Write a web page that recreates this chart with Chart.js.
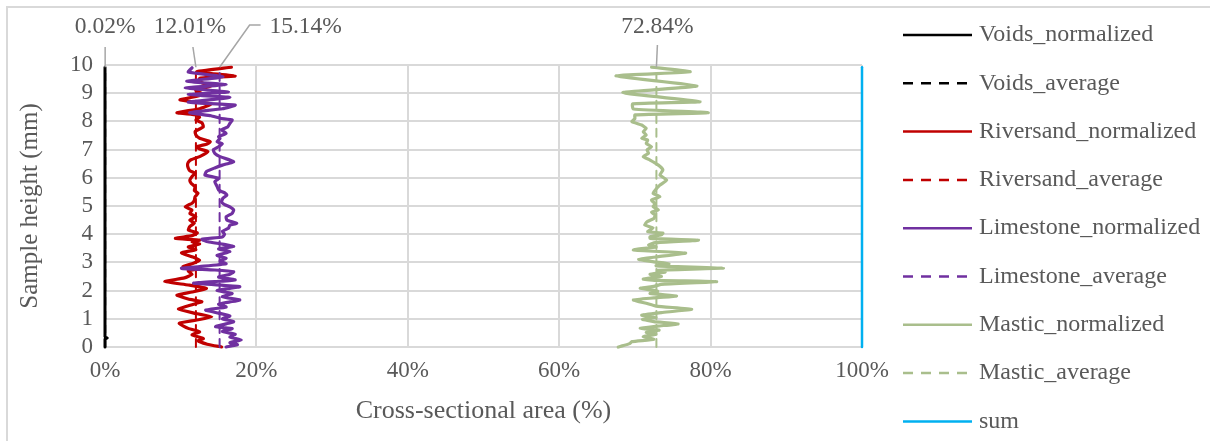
<!DOCTYPE html>
<html>
<head>
<meta charset="utf-8">
<script src="https://cdn.jsdelivr.net/npm/chart.js@4.4.0/dist/chart.umd.min.js"></script>
<style>
  html, body { margin: 0; padding: 0; background: #fff; }
</style>
</head>
<body>
<canvas id="area-chart" width="1210" height="441"></canvas>
<script>
Chart.defaults.font.family = '"Liberation Serif", "Times New Roman", serif'
Chart.defaults.color = '#595959'

// Sample heights (mm) and cross-sectional areas (%) for each phase
const voidsHeight = [0, 0.28, 0.32, 0.36, 9.92];
const voidsArea = [0, 0, 0.3, 0, 0];

const riversandHeight = [0, 0.1, 0.22, 0.3, 0.43, 0.54, 0.66, 0.84, 0.95, 1.07, 1.19, 1.34, 1.5, 1.61, 1.7, 1.84, 1.95, 2.08, 2.2, 2.32,
  2.45, 2.58, 2.7, 2.79, 2.85, 2.95, 3.08, 3.2, 3.34, 3.45, 3.55, 3.65, 3.72, 3.79, 3.85, 3.95, 4.05, 4.15, 4.27, 4.4,
  4.5, 4.62, 4.74, 4.85, 4.97, 5.1, 5.2, 5.33, 5.45, 5.55, 5.68, 5.8, 5.92, 6.05, 6.16, 6.25, 6.34, 6.45, 6.55, 6.63,
  6.75, 6.93, 7.02, 7.1, 7.2, 7.28, 7.4, 7.52, 7.64, 7.81, 7.95, 8.05, 8.15, 8.23, 8.31, 8.45, 8.62, 8.76, 8.95, 9.1,
  9.25, 9.4, 9.53, 9.61, 9.76, 9.92];
const riversandArea = [15.4, 13.5, 12.3, 13.0, 11.5, 12.5, 11.0, 9.8, 12.0, 14.1, 12.0, 9.7, 11.5, 12.8, 11.0, 9.5, 11.5, 13.4, 11.0, 7.9,
  10.5, 11.5, 11.0, 12.5, 10.3, 11.5, 12.5, 11.5, 10.1, 12.0, 11.0, 12.5, 11.5, 12.5, 9.3, 11.5, 12.2, 11.0, 11.2, 11.8,
  11.2, 12.0, 11.2, 11.5, 10.6, 11.5, 11.8, 11.9, 12.3, 11.8, 11.9, 11.4, 11.2, 11.5, 11.9, 11.2, 11.0, 10.9, 11.0, 11.3,
  12.5, 13.6, 12.5, 12.1, 13.5, 13.9, 12.5, 12.0, 11.9, 13.0, 12.8, 12.0, 12.5, 12.1, 9.5, 12.5, 14.0, 9.9, 13.0, 12.0,
  14.0, 12.5, 12.5, 17.2, 12.1, 16.7];

const limestoneHeight = [0, 0.08, 0.15, 0.25, 0.35, 0.45, 0.55, 0.65, 0.72, 0.82, 0.9, 1.0, 1.1, 1.2, 1.31, 1.42, 1.52, 1.6, 1.67, 1.78,
  1.9, 2.0, 2.08, 2.14, 2.26, 2.32, 2.38, 2.48, 2.58, 2.67, 2.73, 2.79, 2.85, 2.95, 3.05, 3.15, 3.25, 3.38, 3.48, 3.56,
  3.65, 3.73, 3.82, 3.9, 4.0, 4.1, 4.21, 4.32, 4.39, 4.5, 4.62, 4.74, 4.86, 4.97, 5.05, 5.15, 5.28, 5.39, 5.45, 5.57,
  5.7, 5.86, 5.98, 6.1, 6.22, 6.35, 6.45, 6.51, 6.57, 6.63, 6.75, 6.87, 6.99, 7.1, 7.2, 7.28, 7.4, 7.46, 7.58, 7.7,
  7.8, 7.93, 8.05, 8.11, 8.2, 8.31, 8.45, 8.58, 8.68, 8.85, 8.95, 9.05, 9.18, 9.3, 9.42, 9.58, 9.75, 9.9];
const limestoneArea = [16.0, 17.5, 16.5, 18.0, 16.5, 17.2, 15.5, 16.8, 14.6, 16.0, 17.0, 15.5, 16.5, 15.0, 13.3, 16.0, 15.0, 16.5, 17.8, 15.5,
  16.8, 14.8, 16.5, 17.8, 11.7, 14.5, 17.2, 15.0, 16.5, 17.0, 14.5, 10.1, 12.5, 16.0, 15.2, 16.0, 14.8, 16.5, 15.0, 17.0,
  15.5, 13.6, 12.8, 15.5, 15.8, 15.5, 16.3, 16.5, 17.4, 16.1, 16.0, 16.8, 17.0, 16.5, 15.8, 15.4, 15.6, 16.1, 15.9, 15.0,
  14.8, 14.5, 15.0, 13.2, 13.4, 14.5, 15.5, 16.3, 17.0, 16.5, 15.2, 14.5, 14.3, 15.0, 15.5, 14.8, 15.2, 15.0, 16.0, 15.4,
  16.2, 16.5, 16.8, 15.2, 14.0, 11.2, 15.5, 17.2, 11.0, 16.5, 11.0, 16.3, 10.6, 16.0, 10.8, 15.6, 11.0, 11.5];

const masticHeight = [0, 0.05, 0.12, 0.19, 0.27, 0.37, 0.45, 0.52, 0.6, 0.66, 0.74, 0.82, 0.9, 0.98, 1.05, 1.13, 1.22, 1.34, 1.45, 1.55,
  1.67, 1.74, 1.81, 1.9, 1.98, 2.08, 2.15, 2.22, 2.32, 2.36, 2.41, 2.5, 2.58, 2.66, 2.72, 2.8, 2.88, 2.95, 3.02, 3.11,
  3.2, 3.33, 3.44, 3.55, 3.62, 3.7, 3.79, 3.85, 3.91, 3.98, 4.04, 4.09, 4.22, 4.33, 4.44, 4.56, 4.68, 4.78, 4.86, 4.98,
  5.07, 5.15, 5.21, 5.33, 5.45, 5.57, 5.74, 5.92, 6.1, 6.28, 6.45, 6.63, 6.75, 6.87, 6.99, 7.1, 7.22, 7.34, 7.4, 7.52,
  7.63, 7.75, 7.87, 7.99, 8.1, 8.23, 8.31, 8.44, 8.62, 8.7, 9.02, 9.26, 9.61, 9.76, 9.92];
const masticArea = [67.8, 68.5, 69.3, 69.6, 72.5, 71.1, 72.8, 71.5, 73.2, 70.7, 73.0, 75.7, 72.5, 71.0, 72.8, 70.9, 73.5, 77.5, 72.8, 71.5,
  69.8, 72.5, 75.5, 72.0, 73.0, 70.7, 72.5, 73.5, 80.8, 73.0, 71.1, 73.5, 72.0, 74.0, 73.0, 81.7, 72.8, 74.5, 72.5, 70.5,
  73.0, 76.7, 69.8, 72.8, 71.8, 72.7, 78.4, 72.0, 72.0, 73.5, 73.7, 71.7, 72.4, 71.3, 71.6, 72.5, 72.7, 72.2, 73.1, 72.4,
  72.7, 72.4, 72.2, 73.3, 72.4, 72.7, 73.3, 74.2, 73.3, 73.7, 73.1, 72.0, 71.1, 71.8, 71.6, 72.2, 71.5, 71.7, 70.9, 71.5,
  71.1, 71.5, 70.9, 69.6, 70.0, 70.0, 79.7, 69.8, 69.7, 78.6, 68.4, 78.2, 67.5, 77.3, 72.2];

// averages over the sample height
const averageLabels = ['0.02%', '12.01%', '15.14%', '72.84%'];
const averageArea = [0.02, 12.01, 15.14, 72.84];
const averageHeight = [0, 9.92];

const sumHeight = [0, 9.92];
const sumArea = [100, 100];

const toPoints = (heights, areas) => heights.map((h, i) => ({ x: areas[i], y: h }));
const avgPoints = (value) => averageHeight.map(h => ({ x: value, y: h }));

const series = [
  { label: 'Voids_normalized', data: toPoints(voidsHeight, voidsArea), color: '#000000', dash: [], width: 3 },
  { label: 'Voids_average', data: avgPoints(averageArea[0]), color: '#000000', dash: [8, 6], width: 2 },
  { label: 'Riversand_normalized', data: toPoints(riversandHeight, riversandArea), color: '#C00000', dash: [], width: 3.2 },
  { label: 'Riversand_average', data: avgPoints(averageArea[1]), color: '#C00000', dash: [8, 6], width: 2 },
  { label: 'Limestone_normalized', data: toPoints(limestoneHeight, limestoneArea), color: '#7030A0', dash: [], width: 3.2 },
  { label: 'Limestone_average', data: avgPoints(averageArea[2]), color: '#7030A0', dash: [8, 6], width: 2 },
  { label: 'Mastic_normalized', data: toPoints(masticHeight, masticArea), color: '#A9BE8C', dash: [], width: 3.2 },
  { label: 'Mastic_average', data: avgPoints(averageArea[3]), color: '#A9BE8C', dash: [8, 6], width: 2 },
  { label: 'sum', data: toPoints(sumHeight, sumArea), color: '#00B0F0', dash: [], width: 2.5 }
];

const datasets = series.map((s, i) => ({
  label: s.label,
  data: s.data,
  showLine: true,
  borderColor: s.color,
  backgroundColor: s.color,
  borderWidth: s.width,
  borderDash: s.dash,
  borderJoinStyle: 'round',
  borderCapStyle: 'round',
  pointRadius: 0,
  tension: 0.15,
  clip: 6,
  order: series.length - i
}));

const fontStr = (size) => size + 'px "Liberation Serif", "Times New Roman", serif';

// frame, axis titles, data labels and legend
const decorations = {
  id: 'decorations',
  beforeDraw(chart) {
    const ctx = chart.ctx;
    ctx.save();
    ctx.strokeStyle = '#D9D9D9';
    ctx.lineWidth = 2;
    ctx.strokeRect(7, 7, 1210, 450);
    ctx.restore();
  },
  afterDraw(chart) {
    const ctx = chart.ctx;
    const xs = chart.scales.x;
    const ys = chart.scales.y;
    const top = ys.getPixelForValue(averageHeight[1]);
    ctx.save();

    // axis titles
    ctx.fillStyle = '#595959';
    ctx.textAlign = 'center';
    ctx.textBaseline = 'middle';
    ctx.font = fontStr(26);
    ctx.fillText('Cross-sectional area (%)', (chart.chartArea.left + chart.chartArea.right) / 2, 411);
    ctx.save();
    ctx.translate(30, (chart.chartArea.top + chart.chartArea.bottom) / 2);
    ctx.rotate(-Math.PI / 2);
    ctx.font = fontStr(25);
    ctx.fillText('Sample height (mm)', 0, 0);
    ctx.restore();

    // average labels with leader lines
    ctx.font = fontStr(23.5);
    const labelPos = [
      { dx: 0, leader: [[0, 47]] },
      { dx: -6, leader: [[-3, 47]] },
      { dx: 86, leader: [[30, 25], [41, 25]] },
      { dx: 1, leader: [[1, 45]] }
    ];
    ctx.strokeStyle = '#A6A6A6';
    ctx.lineWidth = 1.5;
    averageArea.forEach((v, i) => {
      const px = xs.getPixelForValue(v);
      ctx.beginPath();
      ctx.moveTo(px, top);
      labelPos[i].leader.forEach(p => ctx.lineTo(px + p[0], p[1]));
      ctx.stroke();
      ctx.fillText(averageLabels[i], px + labelPos[i].dx, 27);
    });

    // legend
    ctx.font = fontStr(24);
    ctx.textAlign = 'left';
    series.forEach((s, i) => {
      const y = 35 + i * 48.3;
      ctx.strokeStyle = s.color;
      ctx.lineWidth = 2.5;
      ctx.setLineDash(s.dash.length ? [10, 8] : []);
      ctx.beginPath();
      ctx.moveTo(903, y);
      ctx.lineTo(972, y);
      ctx.stroke();
      ctx.setLineDash([]);
      ctx.fillText(s.label, 979, y);
    });
    ctx.restore();
  }
};

const chart = new Chart(document.getElementById('area-chart'), {
  type: 'scatter',
  data: { datasets },
  options: {
    responsive: false,
    animation: false,
    layout: { padding: { top: 65, right: 348, left: 0, bottom: 0 } },
    plugins: { legend: { display: false }, tooltip: { enabled: false } },
    scales: {
      x: {
        type: 'linear',
        min: 0,
        max: 100,
        afterFit: (scale) => { scale.height = 94; },
        ticks: { stepSize: 20, padding: 10, font: { size: 23 }, color: '#595959', callback: v => v + '%' },
        grid: { color: '#D9D9D9', lineWidth: 2, drawTicks: false },
        border: { color: '#D9D9D9', width: 2 }
      },
      y: {
        type: 'linear',
        min: 0,
        max: 10,
        afterFit: (scale) => { scale.width = 105; },
        ticks: { stepSize: 1, autoSkip: false, padding: 12, font: { size: 23 }, color: '#595959' },
        grid: { color: '#D9D9D9', lineWidth: 2, drawTicks: false },
        border: { display: false }
      }
    }
  },
  plugins: [decorations]
});
</script>
</body>
</html>
